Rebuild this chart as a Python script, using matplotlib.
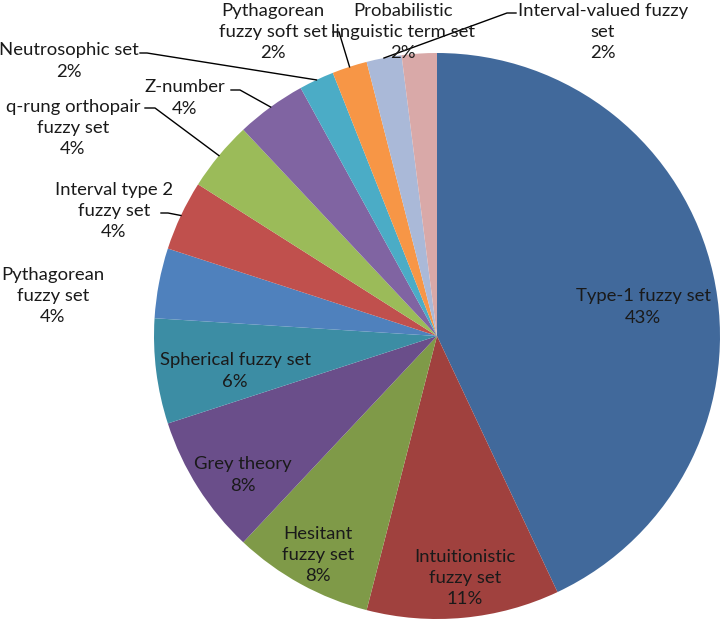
import numpy as np
import matplotlib.pyplot as plt

W, H = 722, 621

labels = ["Type-1 fuzzy set", "Intuitionistic\nfuzzy set", "Hesitant\nfuzzy set",
          "Grey theory", "Spherical fuzzy set", "Pythagorean\nfuzzy set",
          "Interval type 2\nfuzzy set", "q-rung orthopair\nfuzzy set", "Z-number",
          "Neutrosophic set", "Pythagorean\nfuzzy soft set",
          "Probabilistic\nlinguistic term set", "Interval-valued fuzzy\nset"]
shares = [43, 11, 8, 8, 6, 4, 4, 4, 4, 2, 2, 2, 2]
colors = ["#41699b", "#a0413e", "#7f9a48", "#6a4e8a", "#3c8da4", "#4f81bd",
          "#c0504d", "#9bbb59", "#8064a2", "#4bacc6", "#f79646", "#aab9d8", "#d9a9a8"]

# label centres in pixels (x, y from top)
label_pos = [(643, 307), (465, 578), (318, 555), (243, 475), (235, 371), (53, 296),
             (114, 211), (73, 128), (185, 98), (69, 61), (273, 32), (403, 32), (603, 32)]
# leader lines: label index -> (start, elbow, wedge it points to)
leaders = {6: ((161, 213), (168, 213), 6),
           7: ((145, 108), (155, 108), 7),
           8: ((231, 90), (240, 90), 8),
           9: ((140, 53), (147, 53), 9),
           10: ((333, 32), (339, 32), 10),
           12: ((516, 13), (507, 13), 11)}

cx, cy, r = 437, H - 336, 283

plt.rcParams['font.family'] = ['Lato', 'DejaVu Sans']
fig = plt.figure(figsize=(W / 100, H / 100), dpi=100)
ax = fig.add_axes([0, 0, 1, 1])

wedges, _ = ax.pie(shares, colors=colors, startangle=90, counterclock=False,
                   center=(cx, cy), radius=r, wedgeprops=dict(linewidth=0))
ax.set_xlim(0, W)
ax.set_ylim(0, H)
ax.set_aspect('equal')
ax.axis('off')

for i, (lab, val) in enumerate(zip(labels, shares)):
    x, y = label_pos[i]
    ax.text(x, H - y, f"{lab}\n{val}%", ha='center', va='center',
            multialignment='center', fontsize=13.3, linespacing=1.42, color='#1a1a1a')

for i, (p0, p1, wi) in leaders.items():
    w = wedges[wi]
    mid = np.deg2rad((w.theta1 + w.theta2) / 2)
    px, py = cx + r * np.cos(mid), cy + r * np.sin(mid)
    ax.plot([p0[0], p1[0], px], [H - p0[1], H - p1[1], py], color='black', lw=1)

fig.savefig("out.png", dpi=100)
